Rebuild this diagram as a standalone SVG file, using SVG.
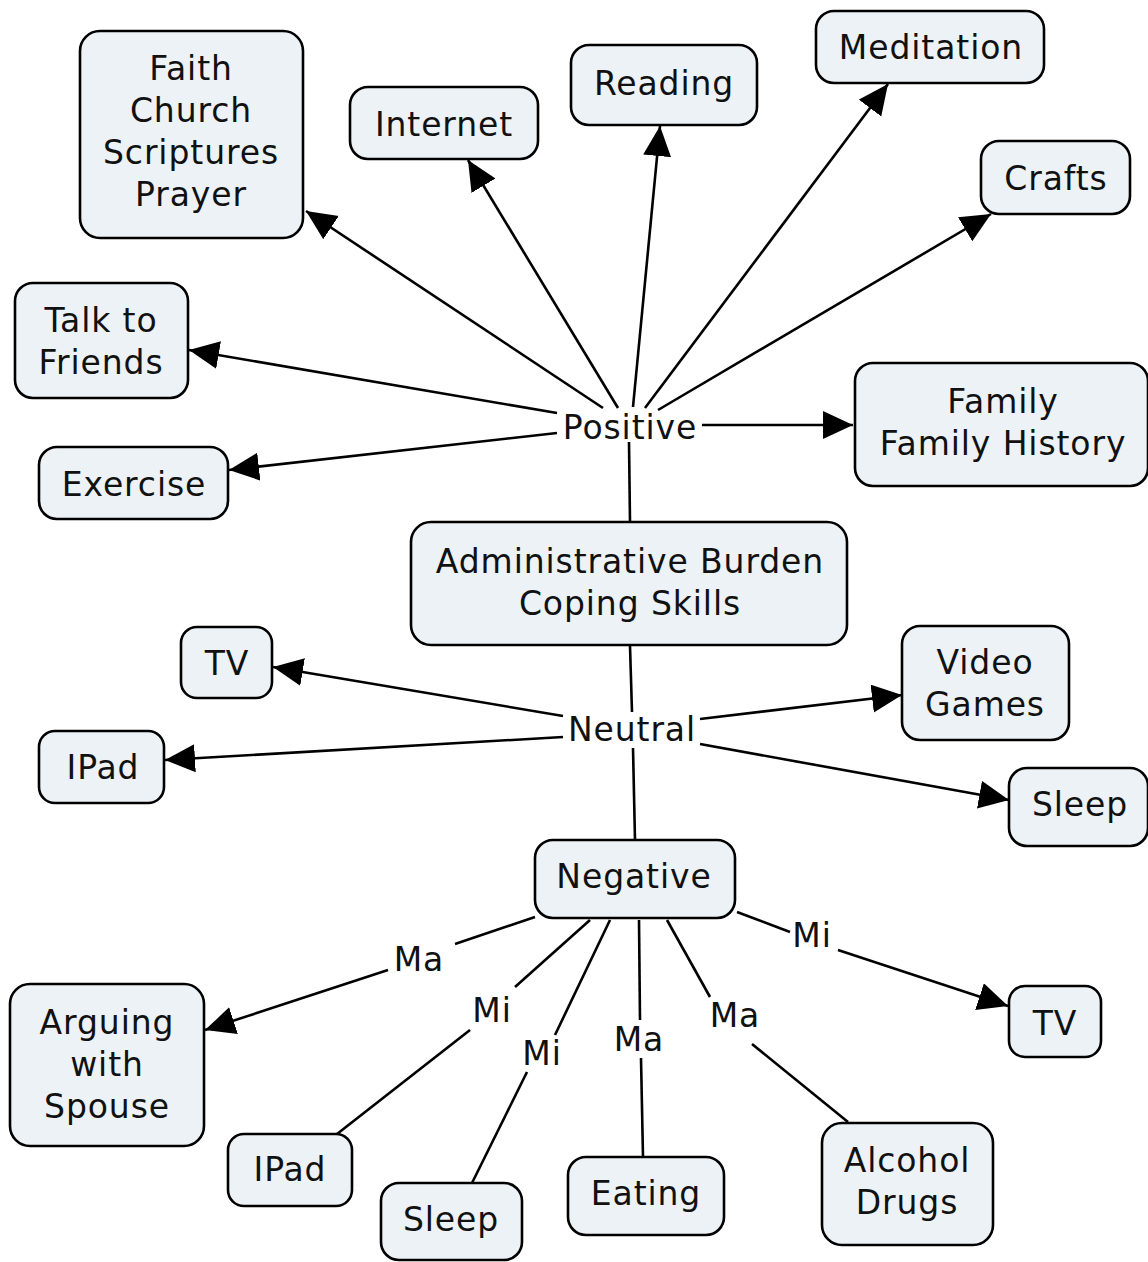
<svg xmlns="http://www.w3.org/2000/svg" width="1148" height="1262" viewBox="0 0 1148 1262">
<style>
.n rect{fill:#ecf2f5;stroke:#000;stroke-width:2.6}
text{font-family:"DejaVu Sans","Verdana",sans-serif;font-size:33px;letter-spacing:0.9px;fill:#111;text-anchor:middle}
.c line{stroke:#000;stroke-width:2.6}
</style>
<defs>
<marker id="a" markerUnits="userSpaceOnUse" markerWidth="32" markerHeight="30" refX="30" refY="14" orient="auto">
<path d="M0,0 L30,14 L0,28 z" fill="#000"/>
</marker>
</defs>
<rect width="1148" height="1262" fill="#fff"/>
<g class="c">
<line x1="603" y1="408" x2="306" y2="211" marker-end="url(#a)"/>
<line x1="618" y1="408" x2="468" y2="160" marker-end="url(#a)"/>
<line x1="633" y1="407" x2="660" y2="126" marker-end="url(#a)"/>
<line x1="645" y1="408" x2="888" y2="84" marker-end="url(#a)"/>
<line x1="658" y1="410" x2="991" y2="214" marker-end="url(#a)"/>
<line x1="557" y1="413" x2="189" y2="350" marker-end="url(#a)"/>
<line x1="557" y1="433" x2="229" y2="470" marker-end="url(#a)"/>
<line x1="702" y1="425" x2="853" y2="425" marker-end="url(#a)"/>
<line x1="629" y1="442" x2="630" y2="522"/>
<line x1="630" y1="646" x2="632" y2="712"/>
<line x1="563" y1="716" x2="273" y2="667" marker-end="url(#a)"/>
<line x1="563" y1="737" x2="165" y2="760" marker-end="url(#a)"/>
<line x1="700" y1="719" x2="902" y2="695" marker-end="url(#a)"/>
<line x1="700" y1="744" x2="1009" y2="800" marker-end="url(#a)"/>
<line x1="633" y1="748" x2="635" y2="840"/>
<line x1="535" y1="917" x2="455" y2="944"/>
<line x1="388" y1="970" x2="205" y2="1030" marker-end="url(#a)"/>
<line x1="590" y1="920" x2="515" y2="987"/>
<line x1="470" y1="1030" x2="337" y2="1134"/>
<line x1="610" y1="920" x2="555" y2="1035"/>
<line x1="527" y1="1072" x2="472" y2="1183"/>
<line x1="639" y1="920" x2="640" y2="1020"/>
<line x1="641" y1="1058" x2="643" y2="1157"/>
<line x1="667" y1="920" x2="710" y2="997"/>
<line x1="752" y1="1044" x2="848" y2="1122"/>
<line x1="737" y1="912" x2="790" y2="932"/>
<line x1="838" y1="950" x2="1008" y2="1006" marker-end="url(#a)"/>
</g>
<g id="faith" class="n"><rect x="80" y="31" width="223" height="207" rx="20"/><text x="191" y="80">Faith</text><text x="191" y="122">Church</text><text x="191" y="164">Scriptures</text><text x="191" y="206">Prayer</text></g>
<g id="internet" class="n"><rect x="350" y="87" width="188" height="72" rx="18"/><text x="444" y="136">Internet</text></g>
<g id="reading" class="n"><rect x="571" y="45" width="186" height="80" rx="18"/><text x="664" y="95">Reading</text></g>
<g id="meditation" class="n"><rect x="816" y="11" width="228" height="72" rx="18"/><text x="931" y="59">Meditation</text></g>
<g id="crafts" class="n"><rect x="981" y="141" width="149" height="73" rx="18"/><text x="1056" y="190">Crafts</text></g>
<g id="talk" class="n"><rect x="15" y="283" width="173" height="115" rx="18"/><text x="101" y="332">Talk to</text><text x="101" y="374">Friends</text></g>
<g id="family" class="n"><rect x="855" y="363" width="293" height="123" rx="18"/><text x="1003" y="413">Family</text><text x="1003" y="455">Family History</text></g>
<g id="exercise" class="n"><rect x="39" y="447" width="189" height="72" rx="18"/><text x="134" y="496">Exercise</text></g>
<g id="positive"><text x="630" y="439">Positive</text></g>
<g id="admin" class="n"><rect x="411" y="522" width="436" height="123" rx="20"/><text x="630" y="573">Administrative Burden</text><text x="630" y="615">Coping Skills</text></g>
<g id="tv1" class="n"><rect x="181" y="627" width="91" height="71" rx="16"/><text x="227" y="675">TV</text></g>
<g id="video" class="n"><rect x="902" y="626" width="167" height="114" rx="18"/><text x="985" y="674">Video</text><text x="985" y="716">Games</text></g>
<g id="ipad1" class="n"><rect x="39" y="731" width="125" height="72" rx="16"/><text x="103" y="779">IPad</text></g>
<g id="neutral"><text x="632" y="741">Neutral</text></g>
<g id="sleep1" class="n"><rect x="1009" y="768" width="139" height="78" rx="18"/><text x="1080" y="816">Sleep</text></g>
<g id="negative" class="n"><rect x="535" y="840" width="200" height="78" rx="18"/><text x="634" y="888">Negative</text></g>
<g id="arguing" class="n"><rect x="10" y="984" width="194" height="162" rx="20"/><text x="107" y="1034">Arguing</text><text x="107" y="1076">with</text><text x="107" y="1118">Spouse</text></g>
<g id="ipad2" class="n"><rect x="228" y="1134" width="124" height="72" rx="16"/><text x="290" y="1181">IPad</text></g>
<g id="sleep2" class="n"><rect x="381" y="1183" width="141" height="77" rx="18"/><text x="451" y="1231">Sleep</text></g>
<g id="eating" class="n"><rect x="568" y="1157" width="156" height="78" rx="18"/><text x="646" y="1205">Eating</text></g>
<g id="alcohol" class="n"><rect x="822" y="1123" width="171" height="122" rx="20"/><text x="907" y="1172">Alcohol</text><text x="907" y="1214">Drugs</text></g>
<g id="tv2" class="n"><rect x="1009" y="986" width="92" height="71" rx="16"/><text x="1055" y="1035">TV</text></g>
<g id="labels"><text x="419" y="971">Ma</text><text x="492" y="1022">Mi</text><text x="542" y="1065">Mi</text><text x="639" y="1051">Ma</text><text x="735" y="1027">Ma</text><text x="812" y="947">Mi</text></g>
</svg>
